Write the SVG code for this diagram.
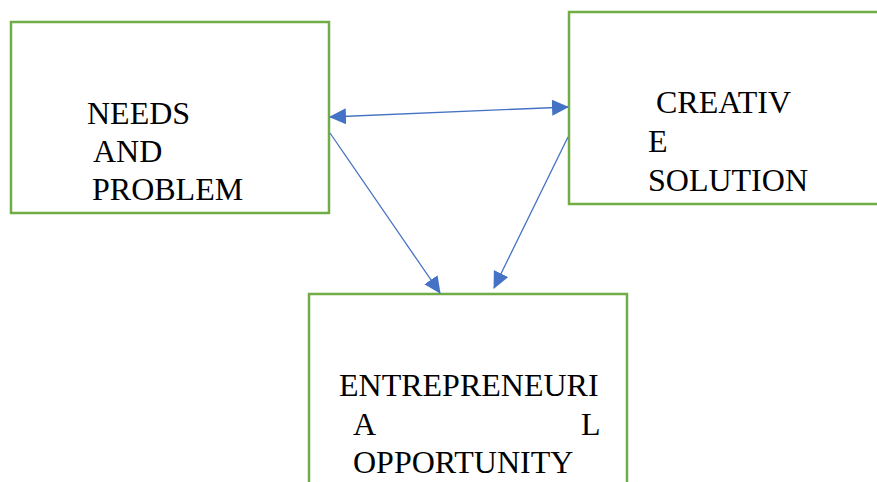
<svg xmlns="http://www.w3.org/2000/svg" width="877" height="482" viewBox="0 0 877 482">
<style>
.box{fill:#fff;stroke:#70AD47;stroke-width:2.5}
.t{font-family:"Liberation Serif","Times New Roman",serif;font-size:32px;fill:#000}
.c{stroke:#4472C4;stroke-width:1.3;fill:none}
</style>
<defs>
<marker id="ah" markerUnits="userSpaceOnUse" markerWidth="17" markerHeight="16" viewBox="0 0 17 16" refX="16" refY="8" orient="auto-start-reverse">
<path d="M0,0 L17,8 L0,16 Z" fill="#4472C4"/>
</marker>
</defs>
<rect width="877" height="482" fill="#fff"/>
<g id="node-needs">
<rect class="box" x="11" y="22" width="318" height="191"/>
<text class="t" x="87" y="124">NEEDS</text>
<text class="t" x="93" y="162">AND</text>
<text class="t" x="92" y="200">PROBLEM</text>
</g>
<g id="node-creative">
<rect class="box" x="569" y="12" width="320" height="192"/>
<text class="t" x="656" y="113">CREATIV</text>
<text class="t" x="648" y="152">E</text>
<text class="t" x="648" y="191">SOLUTION</text>
</g>
<g id="node-opportunity">
<rect class="box" x="309" y="294" width="318" height="200"/>
<text class="t" x="339" y="396">ENTREPRENEURI</text>
<text class="t" x="353" y="435">A</text>
<text class="t" x="581" y="435">L</text>
<text class="t" x="353" y="473">OPPORTUNITY</text>
</g>
<g id="connectors">
<line class="c" x1="330" y1="117" x2="568" y2="107" marker-start="url(#ah)" marker-end="url(#ah)"/>
<line class="c" x1="330" y1="133" x2="440" y2="293" marker-end="url(#ah)"/>
<line class="c" x1="568" y1="137" x2="494" y2="288" marker-end="url(#ah)"/>
</g>
</svg>
